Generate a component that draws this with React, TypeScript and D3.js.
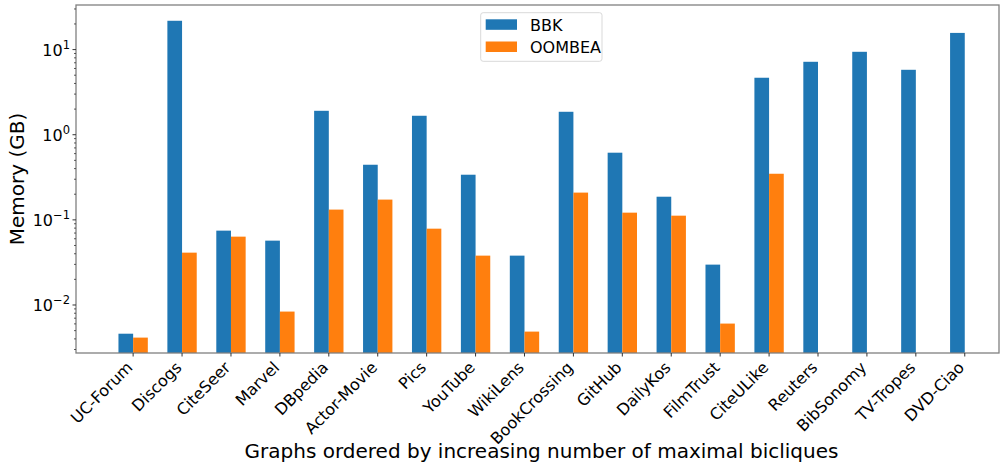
import React from "react";
import * as d3 from "d3";

const categories = ["UC-Forum","Discogs","CiteSeer","Marvel","DBpedia","Actor-Movie","Pics","YouTube","WikiLens","BookCrossing","GitHub","DailyKos","FilmTrust","CiteULike","Reuters","BibSonomy","TV-Tropes","DVD-Ciao"];
const bbk = [0.0046, 21.8, 0.0747, 0.057, 1.91, 0.444, 1.67, 0.339, 0.038, 1.86, 0.615, 0.187, 0.0298, 4.67, 7.19, 9.42, 5.79, 15.7];
const oombea: (number | null)[] = [0.00414, 0.0412, 0.0635, 0.00837, 0.132, 0.173, 0.0788, 0.038, 0.00487, 0.209, 0.1215, 0.112, 0.00605, 0.348, null, null, null, null];
const yMajorTicks = [1e-2, 1e-1, 1e0, 1e1];
const yTickExps = ["\u22122", "\u22121", "0", "1"];
const seriesNames = ["BBK", "OOMBEA"];
const colors = ["#1f77b4", "#ff7f0e"];

const W = 1000, H = 464;
const left = 76, right = 999, top = 5, bottom = 353;
const font = "DejaVu Sans, sans-serif";

export default function App() {
  const y = d3.scaleLog().domain([0.00273, 33.4]).range([bottom, top]);
  const x = d3.scaleLinear().domain([-1.168, 17.7]).range([left, right]);
  const bw = 0.3;
  const minor: number[] = [];
  for (let e = -3; e <= 1; e++) for (let m = 2; m <= 9; m++) {
    const v = m * Math.pow(10, e);
    if (v >= y.domain()[0] && v <= y.domain()[1]) minor.push(v);
  }
  const spine = "#808080";
  return (
    <svg width={W} height={H} style={{ position: "absolute", left: 0, top: 0, background: "#fff" }} fontFamily={font}>
      {categories.map((c, i) => (
        <g key={c}>
          <rect x={x(i - bw)} y={y(bbk[i])} width={x(i) - x(i - bw)} height={bottom - y(bbk[i])} fill={colors[0]} />
          {oombea[i] != null && (
            <rect x={x(i)} y={y(oombea[i] as number)} width={x(i + bw) - x(i)} height={bottom - y(oombea[i] as number)} fill={colors[1]} />
          )}
        </g>
      ))}
      <rect x={left} y={top} width={right - left} height={bottom - top} fill="none" stroke={spine} strokeWidth={1.3} />
      {yMajorTicks.map((t, k) => (
        <g key={t}>
          <line x1={left - 3.5} x2={left} y1={y(t)} y2={y(t)} stroke="#333" strokeWidth={1} />
          <text x={left - 6} y={y(t) + 6} textAnchor="end" fontSize={16} fill="#000">
            10<tspan fontSize={11.5} dy={-7}>{yTickExps[k]}</tspan>
          </text>
        </g>
      ))}
      {minor.map((t) => (
        <line key={t} x1={left - 2} x2={left} y1={y(t)} y2={y(t)} stroke="#333" strokeWidth={0.8} />
      ))}
      {categories.map((c, i) => (
        <g key={c}>
          <line x1={x(i)} x2={x(i)} y1={bottom} y2={bottom + 3.5} stroke="#333" strokeWidth={1} />
          <text transform={`translate(${x(i) - 8},${bottom + 7}) rotate(-45)`} textAnchor="end" fontSize={16} dy="0.75em" fill="#000">{c}</text>
        </g>
      ))}
      <text x={(left + right) / 2 + 4} y={458} textAnchor="middle" fontSize={20} fill="#000">Graphs ordered by increasing number of maximal bicliques</text>
      <text transform={`translate(24,${(top + bottom) / 2}) rotate(-90)`} textAnchor="middle" fontSize={20} fill="#000">Memory (GB)</text>
      <rect x={480.7} y={12.7} width={121.3} height={48.6} rx={2.5} fill="#fff" fillOpacity={0.8} stroke="#d9d9d9" />
      {seriesNames.map((s, k) => (
        <g key={s}>
          <rect x={485.7} y={19.3 + k * 22.2} width={31.3} height={10.5} fill={colors[k]} />
          <text x={530} y={30.5 + k * 22.2} fontSize={16} fill="#000">{s}</text>
        </g>
      ))}
    </svg>
  );
}
